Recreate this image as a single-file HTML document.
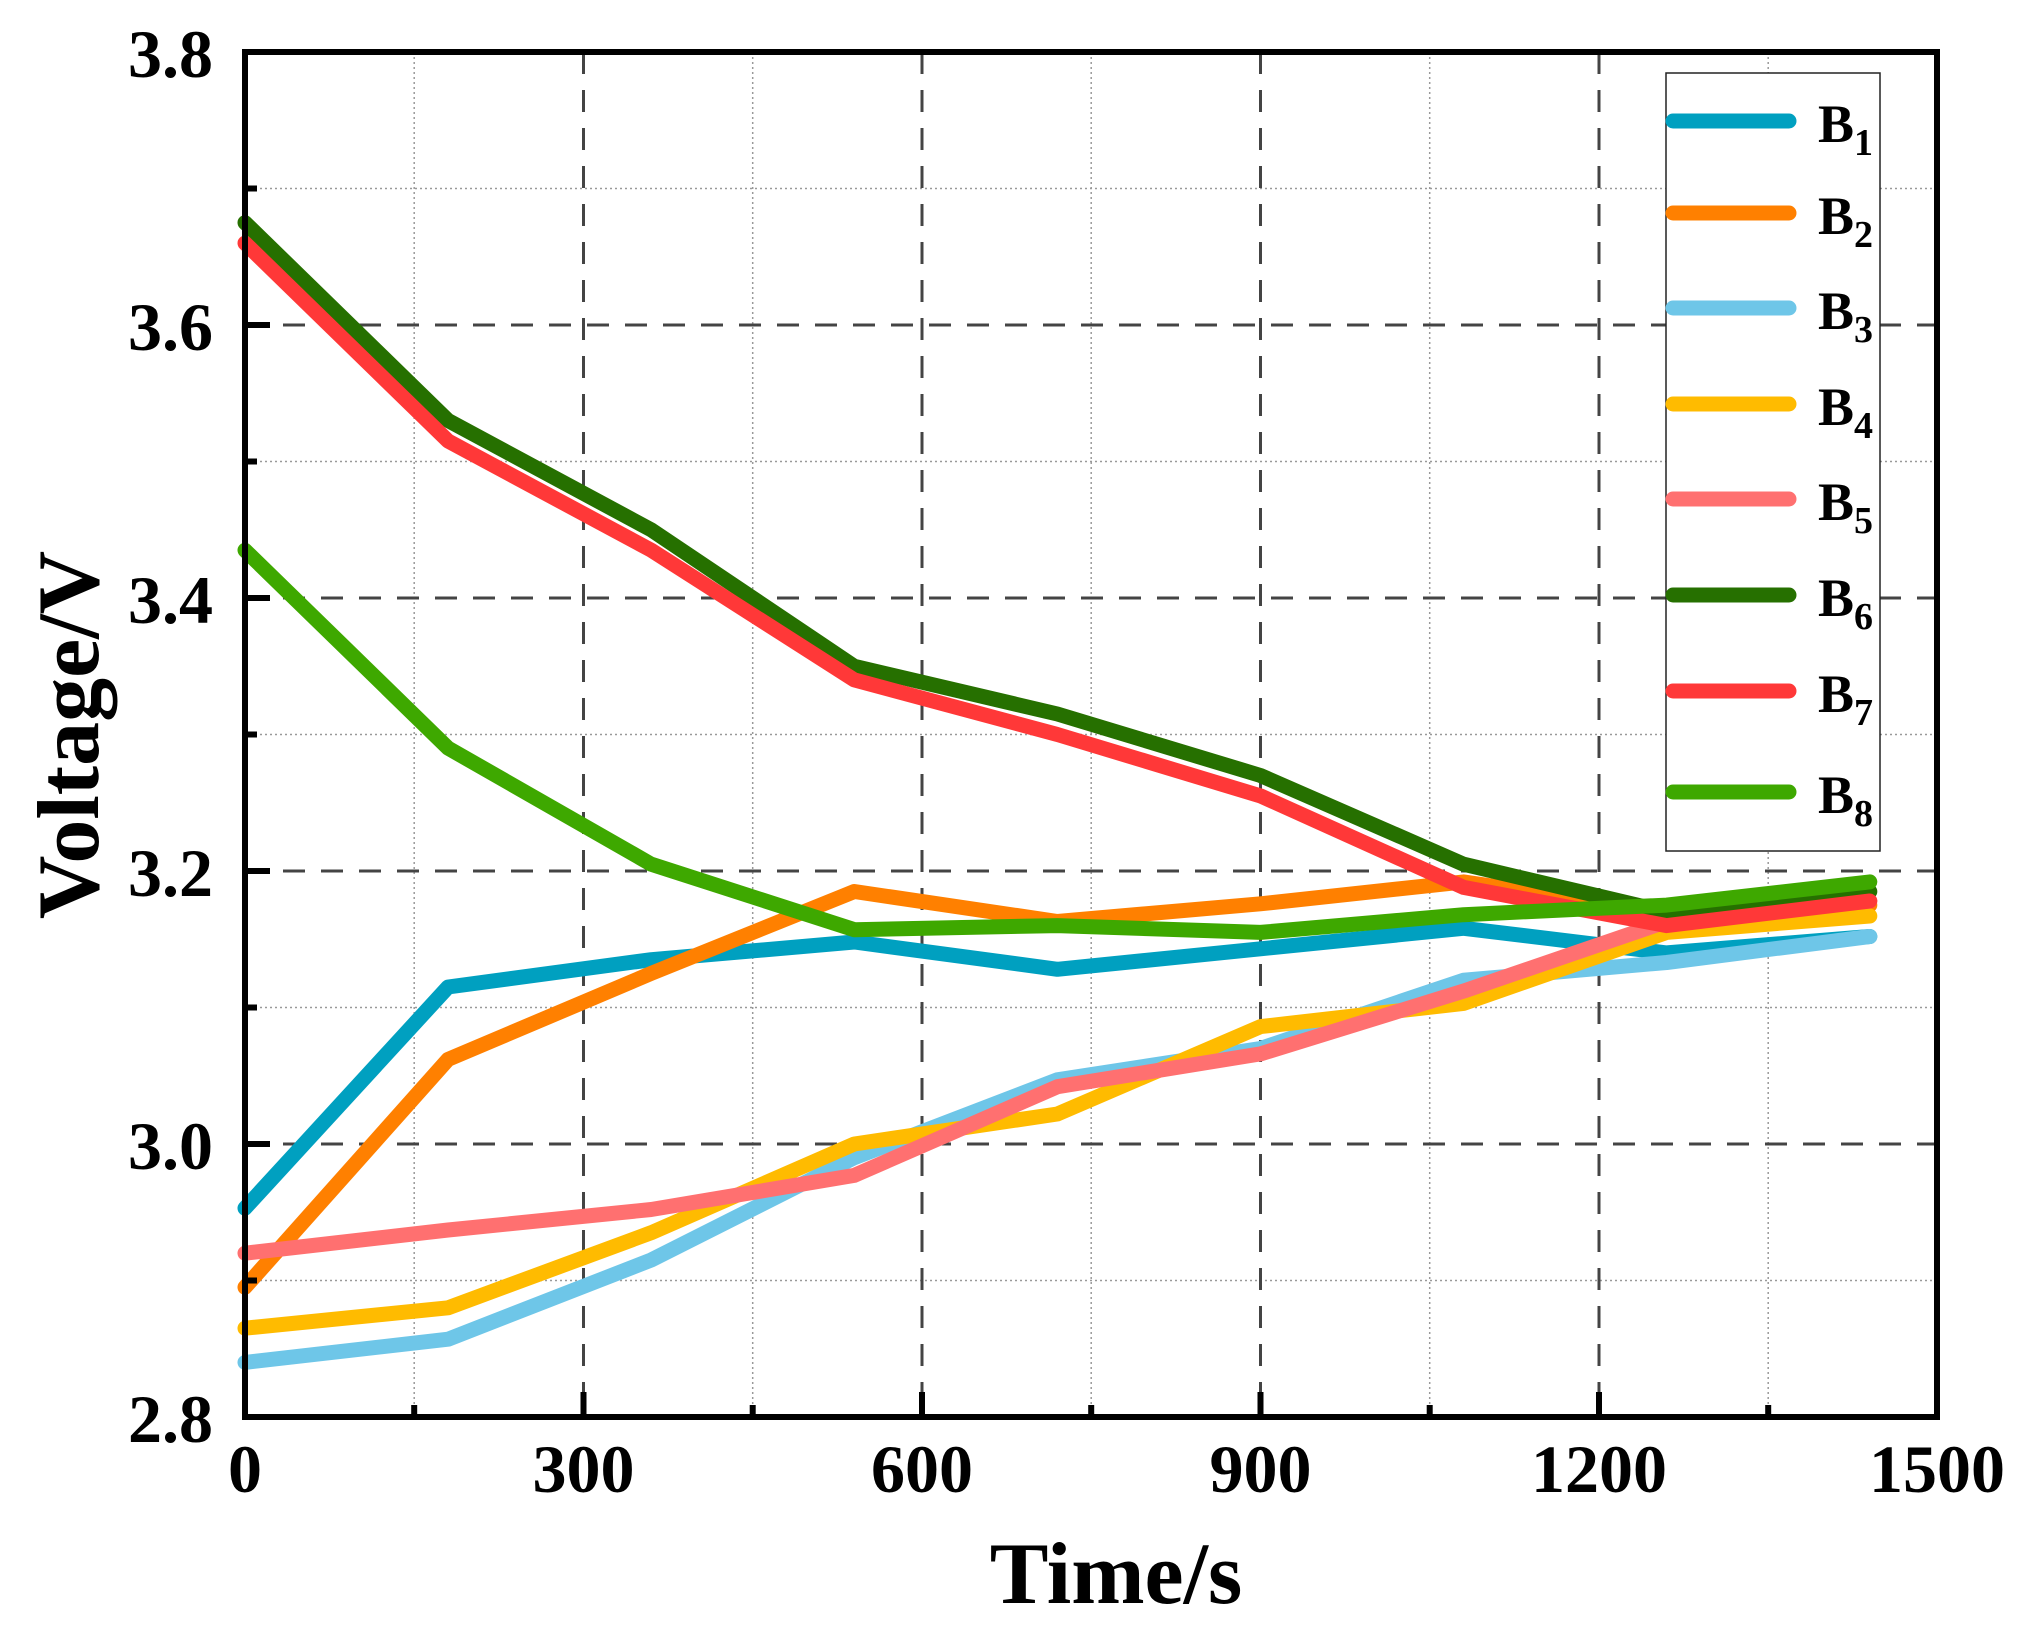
<!DOCTYPE html>
<html><head><meta charset="utf-8"><style>html,body{margin:0;padding:0;background:#fff}svg{display:block}</style></head><body>
<svg width="2030" height="1629" viewBox="0 0 2030 1629" xmlns="http://www.w3.org/2000/svg" font-family="'Liberation Serif', serif" font-weight="bold">
<rect width="2030" height="1629" fill="#fff"/>
<g stroke="#999" stroke-width="1.5" stroke-dasharray="2,3" fill="none">
<path d="M414.2 52V1417M752.7 52V1417M1091.2 52V1417M1429.7 52V1417M1768.2 52V1417"/>
<path d="M245 1280.5H1937M245 1007.5H1937M245 734.5H1937M245 461.5H1937M245 188.5H1937"/>
</g>
<g stroke="#444" stroke-width="3" stroke-dasharray="22,16" fill="none">
<path d="M583.5 52V1417M922 52V1417M1260.5 52V1417M1599 52V1417"/>
<path d="M245 1144H1937M245 871H1937M245 598H1937M245 325H1937"/>
</g>
<g fill="none" stroke-width="15" stroke-linejoin="round" stroke-linecap="round">
<polyline stroke="#00a0c0" points="245,1208.2 448.1,987 651.2,959.7 854.3,942 1057.4,969.3 1260.5,948.8 1463.6,928.3 1666.7,952.9 1869.8,936.5"/>
<polyline stroke="#ff8000" points="245,1287.3 448.1,1059.4 651.2,973.4 854.3,891.5 1057.4,921.5 1260.5,903.8 1463.6,881.9 1666.7,912 1869.8,905.1"/>
<polyline stroke="#6ec6e8" points="245,1362.4 448.1,1339.2 651.2,1260 854.3,1157.7 1057.4,1079.8 1260.5,1048.5 1463.6,980.2 1666.7,962.5 1869.8,936.5"/>
<polyline stroke="#ffbb00" points="245,1328.2 448.1,1307.8 651.2,1232.7 854.3,1144 1057.4,1114 1260.5,1026.6 1463.6,1003.4 1666.7,932.4 1869.8,916"/>
<polyline stroke="#ff7070" points="245,1253.2 448.1,1230 651.2,1209.5 854.3,1175.4 1057.4,1086.7 1260.5,1053.9 1463.6,991.1 1666.7,921.5 1869.8,901"/>
<polyline stroke="#267000" points="245,222.6 448.1,420.5 651.2,529.8 854.3,666.3 1057.4,714 1260.5,775.5 1463.6,864.2 1666.7,912 1869.8,891.5"/>
<polyline stroke="#ff3838" points="245,243.1 448.1,441 651.2,550.2 854.3,679.9 1057.4,734.5 1260.5,795.9 1463.6,887.4 1666.7,925.6 1869.8,901"/>
<polyline stroke="#3ea800" points="245,550.2 448.1,748.1 651.2,864.2 854.3,929.7 1057.4,925.6 1260.5,932.4 1463.6,914.7 1666.7,905.1 1869.8,881.9"/>
</g>
<rect x="245" y="52" width="1692" height="1365" fill="none" stroke="#000" stroke-width="6"/>
<g stroke="#000" stroke-width="6">
<path d="M245 1144h25M245 871h25M245 598h25M245 325h25M245 1280.5h12M245 1007.5h12M245 734.5h12M245 461.5h12M245 188.5h12"/>
<path d="M583.5 1417v-25M922 1417v-25M1260.5 1417v-25M1599 1417v-25M414.2 1417v-12M752.7 1417v-12M1091.2 1417v-12M1429.7 1417v-12M1768.2 1417v-12"/>
</g>
<g font-size="68" text-anchor="end" fill="#000">
<text x="213" y="1442">2.8</text><text x="213" y="1169">3.0</text><text x="213" y="896">3.2</text><text x="213" y="623">3.4</text><text x="213" y="350">3.6</text><text x="213" y="77">3.8</text>
</g>
<g font-size="68" text-anchor="middle" fill="#000">
<text x="245" y="1492">0</text><text x="583.5" y="1492">300</text><text x="922" y="1492">600</text><text x="1260.5" y="1492">900</text><text x="1599" y="1492">1200</text><text x="1937" y="1492">1500</text>
</g>
<text x="1116" y="1603" font-size="88" text-anchor="middle">Time/s</text>
<text transform="translate(98,735) rotate(-90)" font-size="88" text-anchor="middle">Voltage/V</text>
<rect x="1666" y="73" width="214" height="778" fill="#fff" stroke="#222" stroke-width="1.5"/>
<g stroke-width="15" stroke-linecap="round">
<path stroke="#00a0c0" d="M1673 121H1789"/><path stroke="#ff8000" d="M1673 213H1789"/><path stroke="#6ec6e8" d="M1673 308H1789"/><path stroke="#ffbb00" d="M1673 404H1789"/><path stroke="#ff7070" d="M1673 499H1789"/><path stroke="#267000" d="M1673 595H1789"/><path stroke="#ff3838" d="M1673 691H1789"/><path stroke="#3ea800" d="M1673 792H1789"/>
</g>
<g font-size="54" fill="#000">
<text x="1818" y="142">B<tspan font-size="38" dy="13">1</tspan></text>
<text x="1818" y="234">B<tspan font-size="38" dy="13">2</tspan></text>
<text x="1818" y="329">B<tspan font-size="38" dy="13">3</tspan></text>
<text x="1818" y="425">B<tspan font-size="38" dy="13">4</tspan></text>
<text x="1818" y="520">B<tspan font-size="38" dy="13">5</tspan></text>
<text x="1818" y="616">B<tspan font-size="38" dy="13">6</tspan></text>
<text x="1818" y="712">B<tspan font-size="38" dy="13">7</tspan></text>
<text x="1818" y="813">B<tspan font-size="38" dy="13">8</tspan></text>
</g>
</svg>
</body></html>
